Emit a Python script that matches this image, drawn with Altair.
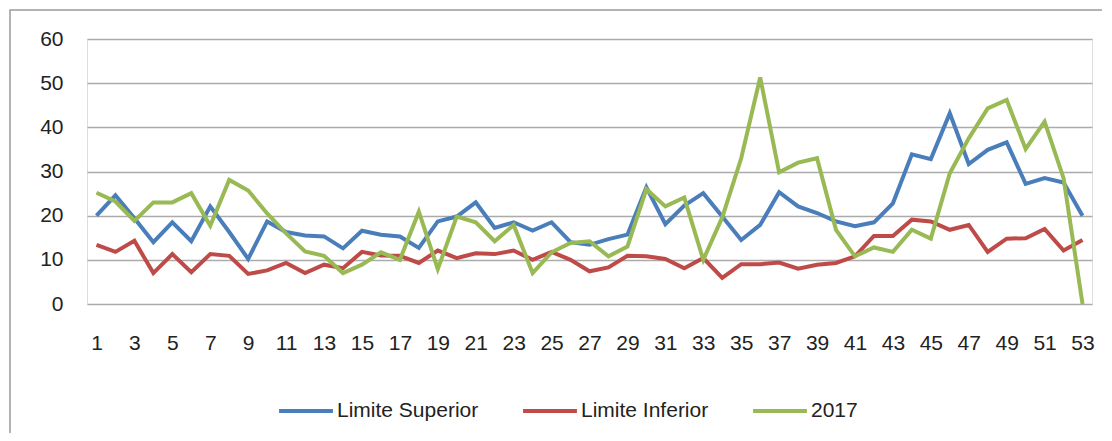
import altair as alt
import pandas as pd

weeks = list(range(1, 54))

limite_superior = [20.0, 24.6, 19.4, 14.0, 18.5, 14.2, 22.1, 16.3, 10.2, 18.7,
                   16.3, 15.5, 15.3, 12.6, 16.6, 15.7, 15.3, 12.7, 18.7, 19.8,
                   23.0, 17.2, 18.5, 16.6, 18.5, 14.0, 13.4, 14.7, 15.7, 26.4,
                   18.1, 22.3, 25.1, 19.8, 14.5, 17.9, 25.3, 22.1, 20.6, 18.7,
                   17.6, 18.5, 22.8, 33.9, 32.8, 43.2, 31.7, 34.9, 36.6, 27.2,
                   28.5, 27.5, 20.0]

limite_inferior = [13.4, 11.8, 14.3, 7.0, 11.3, 7.2, 11.3, 10.9, 6.8, 7.6,
                   9.3, 7.0, 8.9, 8.1, 11.8, 11.0, 10.9, 9.3, 12.1, 10.4,
                   11.5, 11.3, 12.1, 10.0, 11.8, 10.0, 7.4, 8.3, 10.9, 10.8,
                   10.2, 8.1, 10.4, 5.9, 9.0, 9.0, 9.4, 8.0, 8.9, 9.3,
                   10.8, 15.4, 15.4, 19.1, 18.7, 16.8, 17.9, 11.8, 14.8, 14.9,
                   17.0, 12.1, 14.5]

serie_2017 = [25.2, 23.2, 18.8, 23.0, 23.0, 25.1, 17.7, 28.1, 25.7, 20.5,
              16.0, 11.9, 10.9, 7.0, 8.9, 11.7, 10.0, 20.9, 7.9, 19.8,
              18.5, 14.2, 17.9, 7.0, 11.7, 13.8, 14.2, 10.8, 13.0, 26.0,
              22.1, 24.1, 10.0, 19.6, 33.0, 51.3, 29.8, 32.0, 33.0, 16.8,
              10.8, 12.8, 11.8, 16.8, 14.8, 29.6, 37.5, 44.3, 46.2, 35.1,
              41.3, 28.5, 0.0]

series_names = ["Limite Superior", "Limite Inferior", "2017"]
series_colors = ["#4A7EBB", "#BE4B48", "#98B954"]
x_tick_labels = list(range(1, 54, 2))
y_tick_labels = [0, 10, 20, 30, 40, 50, 60]

rows = []
for name, vals in zip(series_names, [limite_superior, limite_inferior, serie_2017]):
    for w, v in zip(weeks, vals):
        rows.append({"semana": w, "valor": v, "serie": name})
df = pd.DataFrame(rows)

FONT = "Liberation Sans"

lines = alt.Chart(df).mark_line(strokeWidth=4, strokeJoin="miter").encode(
    x=alt.X("semana:Q",
            scale=alt.Scale(domain=[0.5, 53.5], nice=False, zero=False),
            axis=alt.Axis(values=x_tick_labels, title=None, grid=False, ticks=False,
                          domain=False, labelFontSize=21, labelPadding=28,
                          labelColor="#222222", labelFont=FONT, labelFlush=False)),
    y=alt.Y("valor:Q",
            scale=alt.Scale(domain=[0, 60], nice=False),
            axis=alt.Axis(values=y_tick_labels, title=None, grid=True, ticks=False,
                          domain=False, labelFontSize=21, labelPadding=24,
                          labelColor="#222222", labelFont=FONT,
                          gridColor="#ABABAB", gridWidth=1.5)),
    color=alt.Color("serie:N",
                    scale=alt.Scale(domain=series_names, range=series_colors),
                    legend=alt.Legend(title=None, orient="none", direction="horizontal",
                                      legendX=190, legendY=343,
                                      symbolType="stroke", symbolSize=2900,
                                      symbolStrokeWidth=4, labelFontSize=21,
                                      labelFont=FONT, labelColor="#222222",
                                      labelOffset=2, columnPadding=36)),
    detail="serie:N",
)

frame = alt.Chart(pd.DataFrame({"k": [0]})).mark_rect(
    fill=None, stroke="#9A9A9A", strokeWidth=1.5
).encode(
    x=alt.value(-77), x2=alt.value(1040),
    y=alt.value(-29), y2=alt.value(420),
)

chart = alt.layer(frame, lines).properties(
    width=1005, height=265,
    padding={"left": 79, "top": 31, "right": 10, "bottom": 129},
    autosize=alt.AutoSizeParams(type="none"),
).configure_view(stroke=None).configure(background="white")

chart.save("out.html", embed_options={"renderer": "svg", "actions": False})
